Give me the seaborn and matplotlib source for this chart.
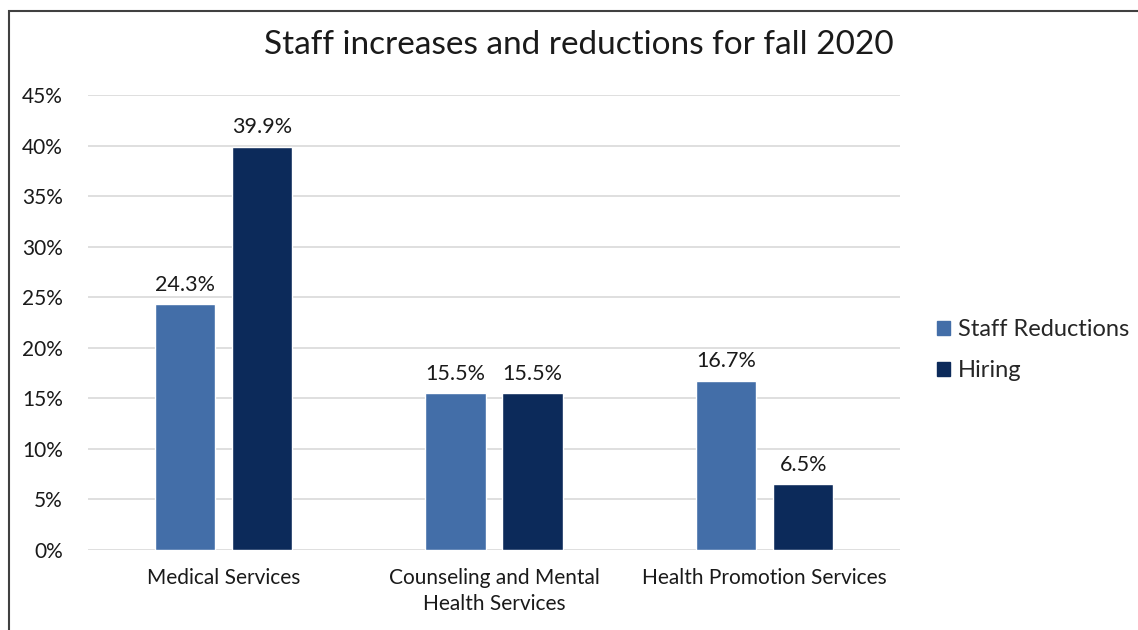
import matplotlib
matplotlib.use("Agg")
import matplotlib.pyplot as plt
import matplotlib.patches as mpatches
import seaborn as sns
import pandas as pd

categories = ["Medical Services", "Counseling and Mental\nHealth Services", "Health Promotion Services"]
staff_reductions = [24.3, 15.5, 16.7]
hiring = [39.9, 15.5, 6.5]
series = ["Staff Reductions", "Hiring"]
colors = ["#436EA8", "#0C2A5A"]

df = pd.DataFrame({
    "category": categories * 2,
    "series": [series[0]] * 3 + [series[1]] * 3,
    "value": staff_reductions + hiring,
})

sns.set_style("white")
plt.rcParams["font.family"] = ["Lato", "DejaVu Sans"]

fig = plt.figure(figsize=(11.38, 6.3), dpi=100)
ax = fig.add_axes([88 / 1138, 1 - 550 / 630, (900 - 88) / 1138, (550 - 95) / 630])

sns.barplot(data=df, x="category", y="value", hue="series", palette=colors,
            width=0.57, gap=0.22, ax=ax, legend=False, saturation=1)

for c in ax.containers:
    ax.bar_label(c, labels=[f"{v:.1f}%" for v in c.datavalues], padding=7,
                 fontsize=15.5, color="#1a1a1a")

ax.set_ylim(0, 45)
ax.set_xlim(-0.5, 2.5)
ax.set_yticks(range(0, 46, 5))
ax.set_yticklabels([f"{t}%" for t in range(0, 46, 5)], fontsize=15, color="#1a1a1a")
ax.tick_params(axis="x", labelsize=15, colors="#1a1a1a", length=0, pad=13)
for lab in ax.get_xticklabels():
    lab.set_linespacing(1.4)
ax.tick_params(axis="y", length=0, pad=18)
ax.set_xlabel("")
ax.set_ylabel("")
ax.yaxis.grid(True, color="#D9D9D9", lw=1.2)
ax.set_axisbelow(True)
for s in ax.spines.values():
    s.set_visible(False)

fig.text(579 / 1138, 1 - 45 / 630, "Staff increases and reductions for fall 2020",
         ha="center", va="center", fontsize=24, color="#1a1a1a")

handles = [mpatches.Patch(color=col, label=lab) for col, lab in zip(colors, series)]
fig.legend(handles=handles, loc="center left", bbox_to_anchor=(937 / 1138, 1 - 350 / 630),
           frameon=False, fontsize=17, handlelength=0.55, handleheight=0.55,
           handletextpad=0.35, labelspacing=0.85, borderaxespad=0, borderpad=0)

border = mpatches.Rectangle((9 / 1138, -0.2), 1.5, 0.2 + (1 - 11 / 630),
                            transform=fig.transFigure, fill=False,
                            edgecolor="#404040", lw=1.5)
fig.patches.append(border)

fig.savefig("out.png", dpi=100)
